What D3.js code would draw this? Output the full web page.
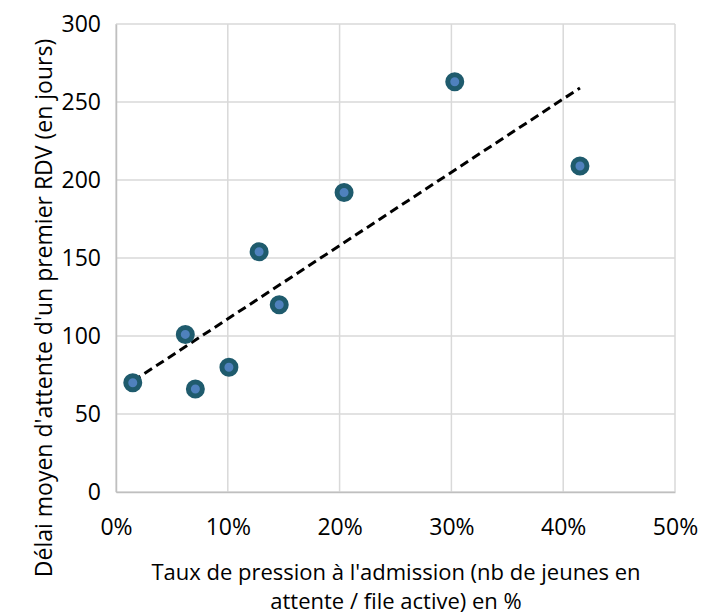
<!DOCTYPE html>
<html>
<head>
<meta charset="utf-8">
<script src="https://cdn.jsdelivr.net/npm/d3@7"></script>
<style>
  body { margin: 0; background: #fff; }
  text { font-family: "Open Sans", "Noto Sans", sans-serif; fill: #000; }
</style>
</head>
<body>
<script>
// taux de pression (%) et délai moyen (jours)
var tauxPression = [1.5, 6.2, 7.1, 10.1, 12.8, 14.6, 20.4, 30.3, 41.5];
var delaiMoyen   = [70, 101, 66, 80, 154, 120, 192, 263, 209];
var xTicks = [0, 10, 20, 30, 40, 50];
var yTicks = [0, 50, 100, 150, 200, 250, 300];
var xTitle = ["Taux de pression à l'admission (nb de jeunes en", "attente / file active) en %"];
var yTitle = "Délai moyen d'attente d'un premier RDV (en jours)";

var W = 702, H = 616;
var m = { left: 116, right: 27, top: 24, bottom: 124 };

var svg = d3.select('body').append('svg').attr('width', W).attr('height', H);

var x = d3.scaleLinear().domain([0, 50]).range([m.left, W - m.right]);
var y = d3.scaleLinear().domain([0, 300]).range([H - m.bottom, m.top]);

/***********************************************************************************/
// Grid
var grid = svg.append('g');
grid.selectAll('.vx').data(xTicks).enter().append('line')
  .attr('x1', d => x(d)).attr('x2', d => x(d))
  .attr('y1', y(0)).attr('y2', y(300))
  .attr('stroke', '#d9d9d9').attr('stroke-width', 1.5);
grid.selectAll('.hy').data(yTicks).enter().append('line')
  .attr('x1', x(0)).attr('x2', x(50))
  .attr('y1', d => y(d)).attr('y2', d => y(d))
  .attr('stroke', '#d9d9d9').attr('stroke-width', 1.5);

/***********************************************************************************/
// Axes
var xAxis = svg.append('g').attr('transform', `translate(0,${y(0)})`)
  .call(d3.axisBottom(x).tickValues(xTicks).tickFormat(d => d + '%').tickSize(0).tickPadding(27));
var yAxis = svg.append('g').attr('transform', `translate(${x(0)},0)`)
  .call(d3.axisLeft(y).tickValues(yTicks).tickSize(0).tickPadding(15));
[xAxis, yAxis].forEach(a => {
  a.select('.domain').attr('stroke', '#bfbfbf').attr('stroke-width', 1.5);
  a.selectAll('text').style('font-size', '23px').style('font-family', '"Open Sans", sans-serif');
});

/***********************************************************************************/
// Trendline (moindres carrés)
var mx = d3.mean(tauxPression), my = d3.mean(delaiMoyen);
var sxy = d3.sum(tauxPression, (v, i) => (v - mx) * (delaiMoyen[i] - my));
var sxx = d3.sum(tauxPression, v => (v - mx) * (v - mx));
var slope = sxy / sxx, icpt = my - slope * mx;
var ext = d3.extent(tauxPression);
svg.append('line')
  .attr('x1', x(ext[0])).attr('y1', y(icpt + slope * ext[0]))
  .attr('x2', x(ext[1])).attr('y2', y(icpt + slope * ext[1]))
  .attr('stroke', '#000').attr('stroke-width', 3).attr('stroke-dasharray', '9,5');

/***********************************************************************************/
// Points
svg.selectAll('.pt').data(tauxPression).enter().append('circle')
  .attr('cx', d => x(d)).attr('cy', (d, i) => y(delaiMoyen[i]))
  .attr('r', 7).attr('fill', '#4f81bd').attr('stroke', '#1f5b6d').attr('stroke-width', 5);

/***********************************************************************************/
// Titles
var xt = svg.append('text').attr('text-anchor', 'middle').style('font-size', '22px');
xt.selectAll('tspan').data(xTitle).enter().append('tspan')
  .attr('x', 396).attr('y', (d, i) => 580 + i * 29).text(d => d);
svg.append('text').attr('transform', 'translate(52,308) rotate(-90)').attr('text-anchor', 'middle')
  .style('font-size', '23px').text(yTitle);
</script>
</body>
</html>
